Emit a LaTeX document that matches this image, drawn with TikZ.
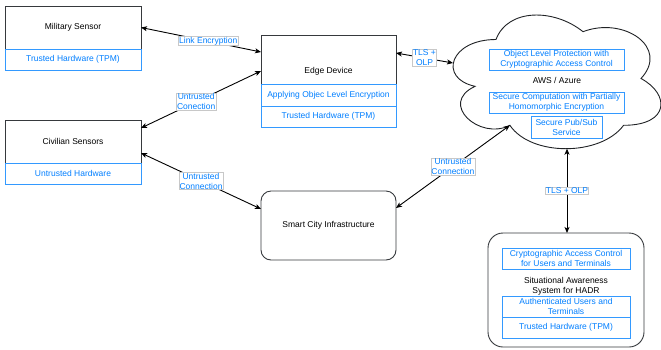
\documentclass[tikz,border=0pt]{standalone}
\usepackage{fontspec}
\setmainfont{Liberation Sans}
\usepackage{tikz}
\usetikzlibrary{positioning, arrows.meta, calc}

\definecolor{boxgray}{RGB}{54,57,61}
\definecolor{boxblue}{RGB}{51,153,255}
\definecolor{textblue}{RGB}{0,127,255}
\definecolor{lblgray}{RGB}{200,200,200}

\begin{document}
\begin{tikzpicture}[
        x=1pt, y=-1pt,
        line width=0.9pt,
        font=\fontsize{8.5}{10}\selectfont,
        box/.style={draw=boxgray, rectangle, fill=white, inner sep=0pt, outer sep=0pt, minimum width=136pt, minimum height=43pt, align=center},
        roundbox/.style={box, rounded corners=10pt},
        sub/.style={draw=boxblue, rectangle, fill=white, text=textblue, inner sep=0pt, outer sep=0pt, minimum width=136pt, minimum height=21pt, align=center},
        lbl/.style={fill=white, draw=lblgray, line width=0.6pt, text=textblue, inner sep=0.6pt, align=center},
        conn/.style={{Stealth[length=6pt,width=5pt,inset=1.5pt]}-{Stealth[length=6pt,width=5pt,inset=1.5pt]}, draw=black}
    ]
        \useasboundingbox (0,0) rectangle (661,349);

        % Nodes
        \node[box] (mil) at (73,27.5) {Military Sensor};
        \node[sub] (miltpm) at (73,59.5) {Trusted Hardware (TPM)};

        \node[box] (civ) at (73,141.5) {Civilian Sensors};
        \node[sub] (civhw) at (73,173.5) {Untrusted Hardware};

        \node[box, minimum width=135pt, minimum height=49pt] (edge) at (328.5,59.5) {};
        \node (edgetxt) at (328.5,71) {Edge Device};
        \node[sub, minimum width=135pt, minimum height=22pt] (edgeenc) at (328.5,95) {Applying Objec Level Encryption};
        \node[sub, minimum width=135pt] (edgetpm) at (328.5,116.5) {Trusted Hardware (TPM)};

        \node[roundbox, minimum width=135pt, minimum height=69pt] (smart) at (328.5,225.5) {Smart City Infrastructure};

        % Cloud
        \draw[boxgray!60!black, fill=white] (496,39.5)
            .. controls (449.6,39.5) and (438,78.5) .. (475.1,86.3)
            .. controls (438,103.5) and (479.8,140.9) .. (509.9,125.3)
            .. controls (530.8,156.5) and (600.4,156.5) .. (623.6,125.3)
            .. controls (670,125.3) and (670,94.1) .. (641,78.5)
            .. controls (670,47.3) and (623.6,16.1) .. (583,31.7)
            .. controls (554,8.3) and (507.6,8.3) .. (496,39.5) -- cycle;
        \coordinate (cloudw) at (453,63);
        \coordinate (cloudsw) at (509.9,125.3);
        \coordinate (clouds) at (567,148.7);

        \node[sub, minimum width=135pt] (awsobj) at (556.5,59.5) {Object Level Protection with\\Cryptographic Access Control};
        \node (aws) at (557,80) {AWS / Azure};
        \node[sub, minimum width=135pt] (awsphe) at (556.5,102.5) {Secure Computation with Partially\\Homomorphic Encryption};
        \node[sub, minimum width=71pt, minimum height=22pt] (awspub) at (566.5,127) {Secure Pub/Sub\\Service};

        \node[roundbox, rounded corners=15pt, minimum width=156pt, minimum height=114pt] (sa) at (566,290) {};
        \node[sub, minimum width=128pt] (saacc) at (566,258.5) {Cryptographic Access Control\\for Users and Terminals};
        \node[align=center] (satxt) at (566,286) {Situational Awareness\\System for HADR};
        \node[sub, minimum width=128pt] (sausers) at (566,306.5) {Authenticated Users and\\Terminals};
        \node[sub, minimum width=128pt] (satpm) at (566,327.5) {Trusted Hardware (TPM)};

        % Edges
        \draw[conn] (mil.east) -- node[lbl, pos=0.56] (lnkenc) {Link Encryption} ($(edge.north west)+(0,17)$);
        \draw[conn] ($(civ.north east)+(0,8)$) -- node[lbl, pos=0.46] (civedge) {Untrusted\\Conection} ($(edge.north west)+(0,36)$);
        \draw[conn] ($(civ.north east)+(0,33)$) -- node[lbl, pos=0.5] (civsmart) {Untrusted\\Connection} ($(smart.north west)+(0,18)$);
        \draw[conn] ($(smart.north east)+(0,17)$) -- node[lbl, pos=0.5] (smartcloud) {Untrusted\\Connection} (cloudsw);
        \draw[conn] ($(edge.north east)+(0,18)$) -- node[lbl, pos=0.5] (edgecloud) {TLS +\\OLP} (cloudw);
        \draw[conn] (clouds) -- node[lbl, pos=0.5] (cloudsa) {TLS + OLP} (sa.north -| clouds);
    \end{tikzpicture}
\end{document}
